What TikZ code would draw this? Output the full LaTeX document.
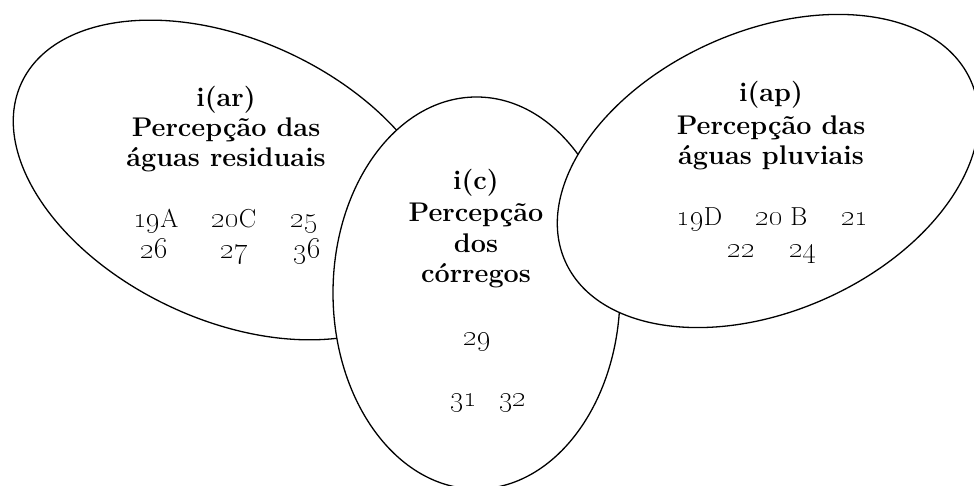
\documentclass[tikz,border=0pt]{standalone}
\newcommand{\osn}[1]{{\fontsize{29}{30}\selectfont\oldstylenums{#1}}}
\begin{document}
\begin{tikzpicture}[x=1pt,y=1pt,
  blob/.style={draw, line width=1.3pt, fill=white},
  ttl/.style={font=\fontsize{27}{30}\selectfont\bfseries, anchor=base, inner sep=0pt},
  num/.style={font=\fontsize{26}{30}\selectfont, anchor=base, inner sep=0pt}]
\useasboundingbox (0,0) rectangle (974,486);
\clip (0,0) rectangle (974,486);
% ellipses (left under centre under right)
\draw[blob, rotate around={-25:(230,306)}] (230,306) ellipse (230 and 140);
\draw[blob] (476.5,193) ellipse (143.5 and 196);
\draw[blob, rotate around={24:(768,315)}] (768,315) ellipse (222 and 140);
% left
\node[ttl] (l1) at (226,379) {i(ar)};
\node[ttl] (l2) at (226,349) {Percepção das};
\node[ttl] (l3) at (226,319) {águas residuais};
\node[num] (n19a) at (156,258) {\osn{19}A};
\node[num] (n20c) at (234,258) {\osn{20}C};
\node[num] (n25) at (304,258) {\osn{25}};
\node[num] (n26) at (154,227) {\osn{26}};
\node[num] (n27) at (234,227) {\osn{27}};
\node[num] (n36) at (307,227) {\osn{36}};
% centre
\node[ttl] (c1) at (476,296) {i(c)};
\node[ttl] (c2) at (476,264) {Percepção};
\node[ttl] (c3) at (476,233) {dos};
\node[ttl] (c4) at (476,203) {córregos};
\node[num] (n29) at (477,140) {\osn{29}};
\node[num] (n31) at (463.5,79) {\osn{31}};
\node[num] (n32) at (512.5,79) {\osn{32}};
% right
\node[ttl] (r1) at (771,384) {i(ap)};
\node[ttl] (r2) at (771,351) {Percepção das};
\node[ttl] (r3) at (771,321) {águas pluviais};
\node[num] (n19d) at (699.5,260) {\osn{19}D};
\node[num] (n20b) at (781.5,260) {\osn{20} B};
\node[num] (n21) at (854.5,260) {\osn{21}};
\node[num] (n22) at (741,228) {\osn{22}};
\node[num] (n24) at (802.5,228) {\osn{24}};
\end{tikzpicture}
\end{document}
